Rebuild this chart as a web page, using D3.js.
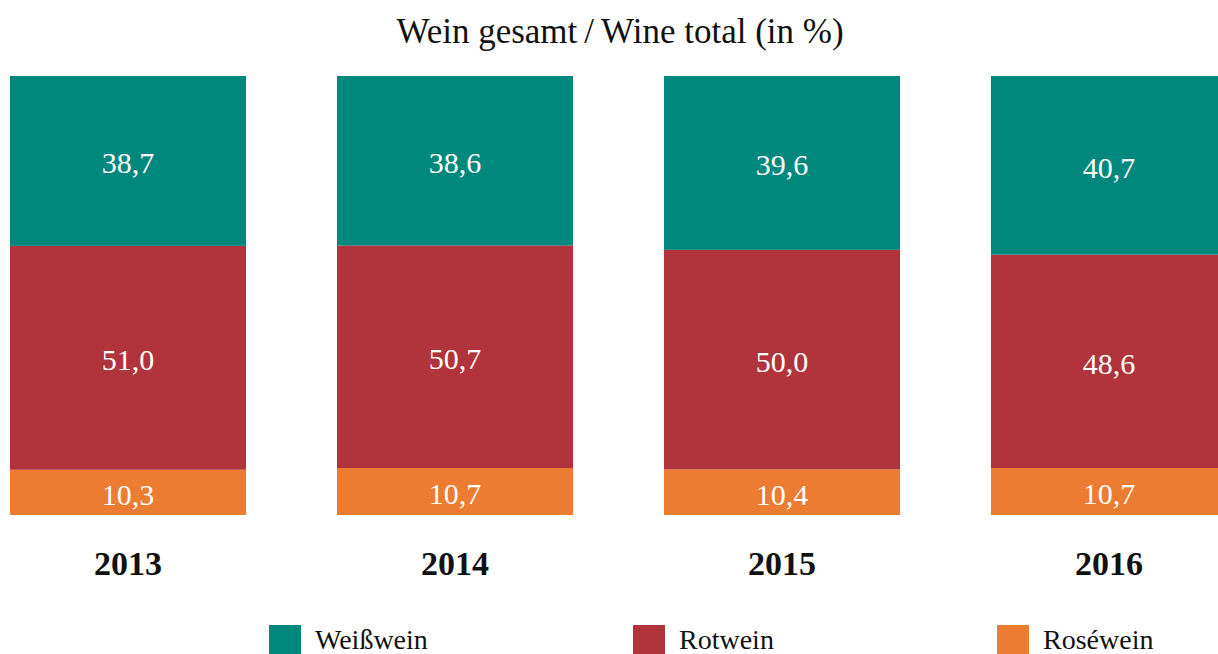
<!DOCTYPE html>
<html>
<head>
<meta charset="utf-8">
<script src="https://cdn.jsdelivr.net/npm/d3@7"></script>
<style>
  html, body { margin: 0; padding: 0; background: #fff; overflow: hidden; }
  svg { display: block; }
</style>
</head>
<body>
<svg id="chart" width="1218" height="654"></svg>
<script>
// ── Data ────────────────────────────────────────────────────
const years = ['2013', '2014', '2015', '2016'];
const weisswein = [38.7, 38.6, 39.6, 40.7];
const rotwein = [51.0, 50.7, 50.0, 48.6];
const rosewein = [10.3, 10.7, 10.4, 10.7];

const seriesNames = ['Weißwein', 'Rotwein', 'Roséwein'];
const seriesColors = ['#00887d', '#b1343c', '#ec7c31'];

const FONT = "'Liberation Serif', 'Times New Roman', serif";

const svg = d3.select('#chart');

// rows for the stack (bottom → top: Rosé, Rot, Weiß)
const rows = years.map((y, i) => ({
  year: y,
  'Roséwein': rosewein[i],
  'Rotwein': rotwein[i],
  'Weißwein': weisswein[i]
}));

const stack = d3.stack().keys(['Roséwein', 'Rotwein', 'Weißwein']);
const layers = stack(rows);

const x = d3.scaleBand()
  .domain(years)
  .range([10, 1227])
  .paddingInner(0.278)
  .paddingOuter(0);

const y = d3.scaleLinear().domain([0, 100]).range([515, 76]);

const color = d3.scaleOrdinal().domain(seriesNames).range(seriesColors);

// ── Title ───────────────────────────────────────────────────
svg.append('text')
  .attr('x', 620)
  .attr('y', 43)
  .attr('text-anchor', 'middle')
  .attr('font-family', FONT)
  .attr('font-size', '35px')
  .attr('fill', '#111')
  .text('Wein gesamt\u2009/\u2009Wine total (in %)');

// ── Bars ────────────────────────────────────────────────────
const layerG = svg.selectAll('.layer')
  .data(layers)
  .enter().append('g')
  .attr('class', 'layer')
  .attr('fill', d => color(d.key));

layerG.selectAll('rect')
  .data(d => d)
  .enter().append('rect')
  .attr('x', d => x(d.data.year))
  .attr('y', d => y(d[1]))
  .attr('width', x.bandwidth())
  .attr('height', d => y(d[0]) - y(d[1]));

// value labels, centred in each segment
layerG.selectAll('text')
  .data(d => d.map(s => ({ s, key: d.key })))
  .enter().append('text')
  .attr('x', d => x(d.s.data.year) + x.bandwidth() / 2)
  .attr('y', d => (y(d.s[0]) + y(d.s[1])) / 2 + 2)
  .attr('text-anchor', 'middle')
  .attr('dominant-baseline', 'central')
  .attr('font-family', FONT)
  .attr('font-size', '30px')
  .attr('fill', '#fff')
  .text(d => d3.format('.1f')(d.s.data[d.key]).replace('.', ','));

// ── Year labels ─────────────────────────────────────────────
svg.selectAll('.year')
  .data(years)
  .enter().append('text')
  .attr('class', 'year')
  .attr('x', d => x(d) + x.bandwidth() / 2)
  .attr('y', 575)
  .attr('text-anchor', 'middle')
  .attr('font-family', FONT)
  .attr('font-size', '34px')
  .attr('font-weight', 'bold')
  .attr('fill', '#111')
  .text(d => d);

// ── Legend ──────────────────────────────────────────────────
const legendX = [269, 633, 997];
const legend = svg.selectAll('.legend')
  .data(seriesNames)
  .enter().append('g')
  .attr('class', 'legend')
  .attr('transform', (d, i) => `translate(${legendX[i]},625)`);

legend.append('rect')
  .attr('width', 32)
  .attr('height', 32)
  .attr('fill', d => color(d));

legend.append('text')
  .attr('x', 46)
  .attr('y', 24)
  .attr('font-family', FONT)
  .attr('font-size', '28px')
  .attr('fill', '#111')
  .text(d => d);
</script>
</body>
</html>
